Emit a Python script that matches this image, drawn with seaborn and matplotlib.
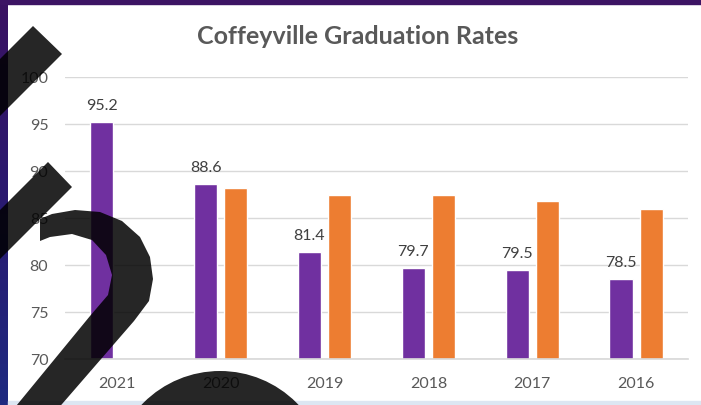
import numpy as np
import pandas as pd
import seaborn as sns
import matplotlib.pyplot as plt
from matplotlib.path import Path
from matplotlib.patches import PathPatch, Circle, Rectangle
from matplotlib.colors import LinearSegmentedColormap

years = ["2021", "2020", "2019", "2018", "2017", "2016"]
coffeyville = [95.2, 88.6, 81.4, 79.7, 79.5, 78.5]
state = [np.nan, 88.2, 87.4, 87.4, 86.8, 86.0]

df = pd.DataFrame({
    "year": years * 2,
    "rate": coffeyville + state,
    "group": ["Coffeyville"] * len(years) + ["State"] * len(years),
})

sns.set_theme(style="white")
plt.rcParams["font.family"] = ["Lato", "DejaVu Sans"]

W, H = 701, 406
fig = plt.figure(figsize=(W / 100, H / 100), dpi=100)
fig.patch.set_facecolor("white")

ax = fig.add_axes([65 / W, 46 / H, 623 / W, 282 / H])
sns.barplot(data=df, x="year", y="rate", hue="group", order=years,
            palette=["#7030A0", "#ED7D31"], saturation=1,
            width=0.58, gap=0.23, errorbar=None, legend=False, ax=ax)

ax.set_ylim(70, 100)
ax.set_yticks(range(70, 101, 5))
ax.set_xlabel("")
ax.set_ylabel("")
ax.yaxis.grid(True, color="#D9D9D9", lw=1)
ax.set_axisbelow(True)
for s in ["top", "right", "left"]:
    ax.spines[s].set_visible(False)
ax.spines["bottom"].set_color("#D9D9D9")
ax.tick_params(axis="y", length=0, pad=12, labelsize=11.5, labelcolor="#595959")
ax.tick_params(axis="x", length=0, pad=12, labelsize=11.5, labelcolor="#595959")

# labels only on the purple series
ax.bar_label(ax.containers[0], fmt="%.1f", padding=7, fontsize=11.5, color="#404040")

fig.text(358 / W, 1 - 37 / H, "Coffeyville Graduation Rates", ha="center", va="center",
         fontsize=18, fontweight="bold", color="#595959")

# slide frame and decorative shapes, in pixel coords
ov = fig.add_axes([0, 0, 1, 1], zorder=5)
ov.patch.set_alpha(0)
ov.axis("off")

grad = np.linspace(0, 1, 100).reshape(-1, 1)
cmap = LinearSegmentedColormap.from_list("edge", ["#3a1262", "#2a1a70", "#1e2a80"])
ov.imshow(grad, extent=[0, 8, H, 0], aspect="auto", cmap=cmap, zorder=1)
ov.add_patch(Rectangle((0, 0), W, 5, color="#3c1464", zorder=1))
ov.add_patch(Rectangle((8, 402), W - 8, 4, color="#dce6f2", zorder=1))


def ccw(pts):
    pts = np.array(pts, float)
    x, y = pts[:, 0], pts[:, 1]
    area = np.sum(x * np.roll(y, -1) - np.roll(x, -1) * y)
    return pts if area > 0 else pts[::-1]


band1 = [(33, 27), (62, 55), (-10, 127), (-10, 70)]
band2 = [(48, 163), (72, 188), (-10, 270), (-10, 221)]
hook = [(40, 220), (52, 215), (75, 211), (100, 213), (122, 222), (140, 238),
        (150, 258), (153, 280), (149, 302), (134, 322), (56, 412),
        (12, 412), (90, 317), (108, 296), (112, 276), (106, 256),
        (92, 241), (72, 235), (50, 238), (40, 242)]

verts, codes = [], []
for poly in [band1, band2, hook]:
    p = ccw(poly)
    verts += list(p) + [p[0]]
    codes += [Path.MOVETO] + [Path.LINETO] * (len(p) - 1) + [Path.CLOSEPOLY]
ov.add_patch(PathPatch(Path(verts, codes), facecolor="black", edgecolor="none",
                       alpha=0.85, zorder=3))
ov.add_patch(Circle((220, 480), 108, facecolor="black", edgecolor="none",
                    alpha=0.85, zorder=3))

ov.set_xlim(0, W)
ov.set_ylim(H, 0)

fig.savefig("out.png", dpi=100)
